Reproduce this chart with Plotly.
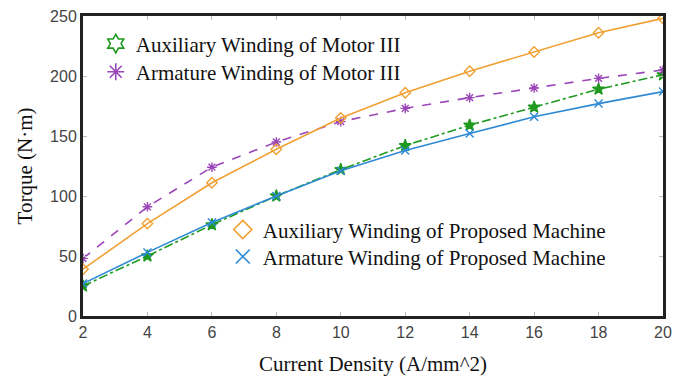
import plotly.graph_objects as go

# Current density sweep (A/mm^2)
current_density = [2, 4, 6, 8, 10, 12, 14, 16, 18, 20]

# Torque (N·m) for each winding
aux_motor3 = [25, 50, 76, 100, 122, 142, 159, 174, 189, 201]
arm_motor3 = [48, 91, 124, 145, 162, 173, 182, 190, 198, 205]
aux_proposed = [39, 77, 111, 139, 165, 186, 204, 220, 236, 248]
arm_proposed = [27, 53, 78, 100, 121, 138, 152, 166, 177, 187]

names = [
    "Auxiliary Winding of Motor III",
    "Armature Winding of Motor III",
    "Auxiliary Winding of Proposed Machine",
    "Armature Winding of Proposed Machine",
]

GREEN = "#1f9a1f"
PURPLE = "#9a45b8"
ORANGE = "#f0a032"
BLUE = "#2e8ad4"

series = [
    (aux_motor3, names[0], GREEN, "dashdot", "star", "hexagram-open", "legend"),
    (arm_motor3, names[1], PURPLE, "dash", "asterisk-open", "asterisk-open", "legend2"),
    (aux_proposed, names[2], ORANGE, "solid", "diamond-open", "diamond-open", "legend3"),
    (arm_proposed, names[3], BLUE, "solid", "x-thin-open", "x-thin-open", "legend4"),
]

fig = go.Figure()

# Curves with small markers
for y, name, color, dash, sym, _, _ in series:
    fig.add_trace(go.Scatter(
        x=current_density, y=y, mode="lines+markers", name=name,
        line=dict(color=color, width=1.6, dash=dash),
        marker=dict(symbol=sym, size=8 if sym != "star" else 9, color=color,
                    line=dict(color=color, width=1.4)),
        showlegend=False,
    ))

# Legend entries show only the marker, drawn larger
for y, name, color, dash, _, lsym, leg in series:
    fig.add_trace(go.Scatter(
        x=[None], y=[None], mode="markers", name=name, legend=leg,
        marker=dict(symbol=lsym, size=14, color=color,
                    line=dict(color=color, width=1.6)),
    ))

serif = "Liberation Serif, Times New Roman, serif"
legend_font = dict(family=serif, size=21, color="#111")


def legend_box(x, y):
    return dict(x=x, y=y, xanchor="left", yanchor="middle",
                bgcolor="rgba(0,0,0,0)", font=legend_font, itemsizing="trace")


fig.update_layout(
    width=685, height=377,
    margin=dict(l=83, r=22, t=16, b=61),
    paper_bgcolor="white", plot_bgcolor="white",
    legend=legend_box(0.022, 0.907),
    legend2=legend_box(0.022, 0.813),
    legend3=legend_box(0.241, 0.287),
    legend4=legend_box(0.241, 0.197),
)

axis_common = dict(
    showline=True, linecolor="#222", linewidth=3, mirror="ticks",
    ticks="inside", ticklen=4, tickcolor="#bbb", tickwidth=1,
    showgrid=False, zeroline=False, automargin=False,
    tickfont=dict(family="Liberation Sans, Arial, sans-serif", size=16, color="#444"),
)

fig.update_xaxes(
    range=[2, 20], tickvals=current_density,
    title_text="Current Density (A/mm^2)", title_standoff=17,
    title_font=dict(family=serif, size=21, color="#111"),
    **axis_common,
)
fig.update_yaxes(
    range=[0, 250], tickvals=[0, 50, 100, 150, 200, 250],
    title_text="Torque (N·m)", title_standoff=12,
    title_font=dict(family=serif, size=21, color="#111"),
    **axis_common,
)

fig.write_html("out.html")
